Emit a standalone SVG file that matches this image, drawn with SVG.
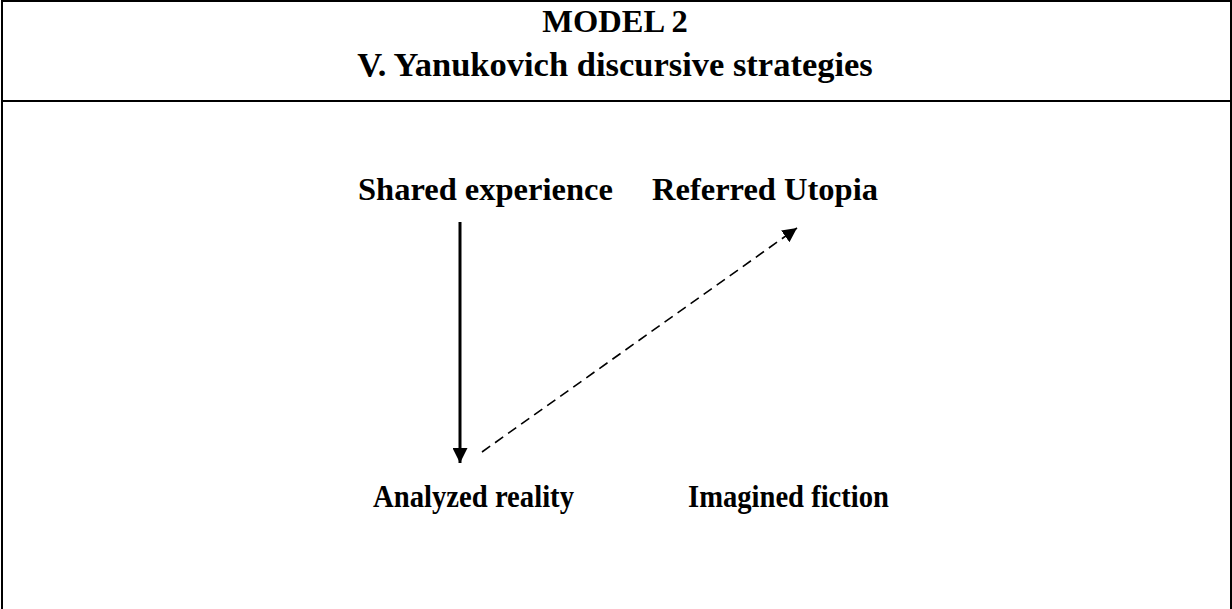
<svg xmlns="http://www.w3.org/2000/svg" width="1232" height="609" viewBox="0 0 1232 609">
<style>
.t{font-family:"Liberation Serif","Times New Roman",serif;font-weight:bold;font-size:32.5px;fill:#000}
.big{font-size:34.5px}
.small{font-size:30.5px}
.frame{stroke:#000;stroke-width:2;fill:none}
</style>
<defs>
<marker id="ah" viewBox="0 0 10 10" refX="10" refY="5" markerWidth="5" markerHeight="5" orient="auto" markerUnits="strokeWidth">
<path d="M0,0 L10,5 L0,10 z" fill="#000"/>
</marker>
<marker id="ah2" viewBox="0 0 10 10" refX="10" refY="5" markerWidth="9" markerHeight="9" orient="auto" markerUnits="strokeWidth">
<path d="M0,0 L10,5 L0,10 z" fill="#000"/>
</marker>
</defs>
<rect width="1232" height="609" fill="#fff"/>
<g id="frame">
<path class="frame" d="M2,609 V1 H1231 V609"/>
<line class="frame" x1="2" y1="101" x2="1231" y2="101"/>
</g>
<g id="title">
<text class="t" x="615" y="32" text-anchor="middle">MODEL 2</text>
<text class="t big" x="615" y="76" text-anchor="middle">V. Yanukovich discursive strategies</text>
</g>
<g id="shared-experience"><text class="t" x="358" y="200">Shared experience</text></g>
<g id="referred-utopia"><text class="t" x="652" y="200">Referred Utopia</text></g>
<g id="analyzed-reality"><text class="t small" x="373" y="507" textLength="201" lengthAdjust="spacingAndGlyphs">Analyzed reality</text></g>
<g id="imagined-fiction"><text class="t small" x="688" y="507" textLength="201" lengthAdjust="spacingAndGlyphs">Imagined fiction</text></g>
<g id="connectors">
<line x1="460" y1="222" x2="460" y2="463" stroke="#000" stroke-width="3" marker-end="url(#ah)"/>
<line x1="482" y1="452" x2="797" y2="228" stroke="#000" stroke-width="1.6" stroke-dasharray="10,6" marker-end="url(#ah2)"/>
</g>
</svg>
